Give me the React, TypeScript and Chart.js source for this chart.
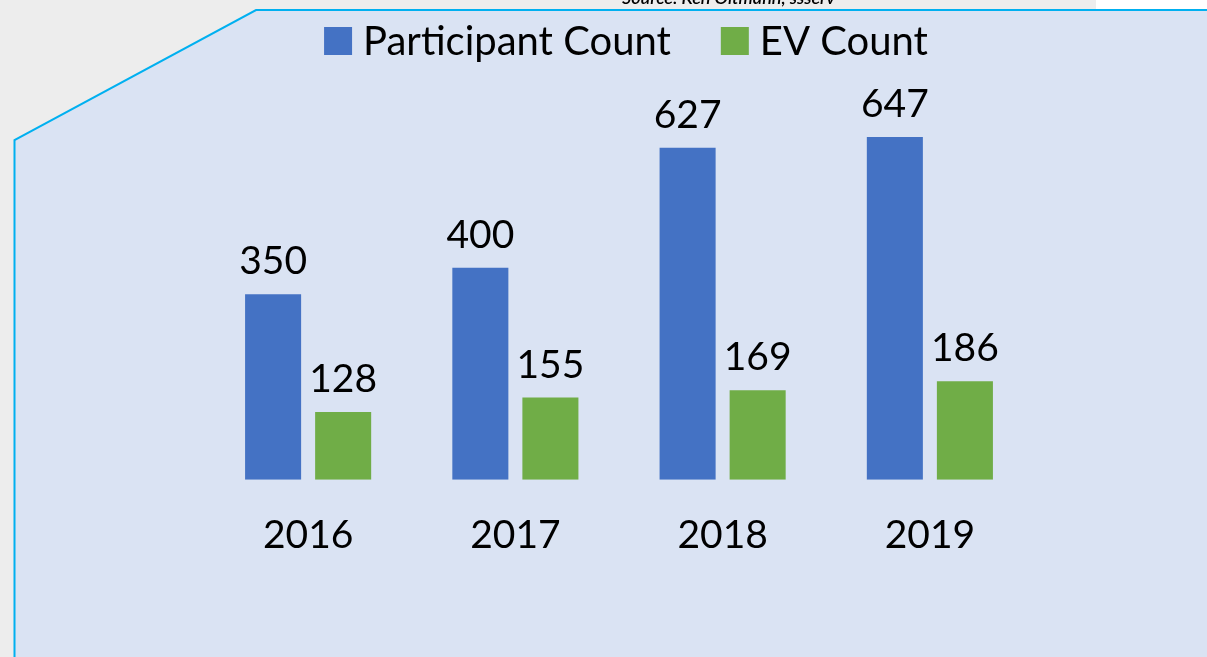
import React, { useEffect, useRef } from "react";
import { Chart, registerables } from "chart.js";

Chart.register(...registerables);

const categories = ["2016", "2017", "2018", "2019"];
const participantCounts = [350, 400, 627, 647];
const evCounts = [128, 155, 169, 186];
const seriesLabels = ["Participant Count", "EV Count"];
const seriesColors = ["#4472C4", "#70AD47"];
const sourceText = "Source: Ken Oltmann, ssserv";

const FONT = "Lato, 'Liberation Sans', sans-serif";

const backgroundPlugin = {
  id: "panelBackground",
  beforeDraw(chart: any) {
    const { ctx, width, height } = chart;
    ctx.save();
    ctx.fillStyle = "#EDEDED";
    ctx.fillRect(0, 0, width, height);
    ctx.fillStyle = "#FFFFFF";
    ctx.fillRect(1096, 0, width - 1096, 9);
    ctx.fillStyle = "#000000";
    ctx.font = `italic 600 18px ${FONT}`;
    ctx.textAlign = "left";
    ctx.textBaseline = "alphabetic";
    ctx.fillText(sourceText, 622, 4);
    ctx.beginPath();
    ctx.moveTo(14.5, height + 5);
    ctx.lineTo(14.5, 140);
    ctx.lineTo(256, 10);
    ctx.lineTo(width + 5, 10);
    ctx.lineTo(width + 5, height + 5);
    ctx.closePath();
    ctx.fillStyle = "#DAE3F3";
    ctx.fill();
    ctx.lineWidth = 2;
    ctx.strokeStyle = "#00B0F0";
    ctx.stroke();
    ctx.restore();
  },
};

const valueLabelPlugin = {
  id: "valueLabels",
  afterDatasetsDraw(chart: any) {
    const { ctx } = chart;
    ctx.save();
    ctx.fillStyle = "#000000";
    ctx.font = `39px ${FONT}`;
    ctx.textAlign = "center";
    ctx.textBaseline = "alphabetic";
    chart.data.datasets.forEach((ds: any, i: number) => {
      const meta = chart.getDatasetMeta(i);
      meta.data.forEach((el: any, j: number) => {
        ctx.fillText(String(ds.data[j]), el.x, el.y - 20);
      });
    });
    ctx.restore();
  },
};

const legendPlugin = {
  id: "customLegend",
  afterDraw(chart: any) {
    const { ctx } = chart;
    ctx.save();
    ctx.font = `40px ${FONT}`;
    ctx.textAlign = "left";
    ctx.textBaseline = "alphabetic";
    const box = 28;
    const textGap = 11;
    const itemGap = 50;
    const items = chart.data.datasets.map((ds: any) => ({
      label: ds.label,
      color: ds.backgroundColor,
      w: ctx.measureText(ds.label).width,
    }));
    const total =
      items.reduce((s: number, it: any) => s + box + textGap + it.w, 0) +
      itemGap * (items.length - 1);
    let x = 626 - total / 2;
    const top = 27;
    items.forEach((it: any) => {
      ctx.fillStyle = it.color;
      ctx.fillRect(x, top, box, box);
      ctx.fillStyle = "#000000";
      ctx.fillText(it.label, x + box + textGap, top + box);
      x += box + textGap + it.w + itemGap;
    });
    ctx.restore();
  },
};

export default function App() {
  const canvasRef = useRef<HTMLCanvasElement | null>(null);

  useEffect(() => {
    if (!canvasRef.current) return;
    const chart = new Chart(canvasRef.current, {
      type: "bar",
      data: {
        labels: categories,
        datasets: [
          {
            label: seriesLabels[0],
            data: participantCounts,
            backgroundColor: seriesColors[0],
            barPercentage: 0.8,
            categoryPercentage: 0.676,
          },
          {
            label: seriesLabels[1],
            data: evCounts,
            backgroundColor: seriesColors[1],
            barPercentage: 0.8,
            categoryPercentage: 0.676,
          },
        ],
      },
      options: {
        responsive: false,
        animation: false,
        devicePixelRatio: 1,
        layout: { padding: { left: 204.5, right: 173.5, top: 109, bottom: 74.5 } },
        plugins: {
          legend: { display: false },
          tooltip: { enabled: false },
        },
        scales: {
          x: {
            grid: { display: false },
            border: { display: false },
            ticks: {
              color: "#000000",
              padding: 24,
              font: { family: FONT, size: 39 },
            },
          },
          y: {
            display: false,
            min: 0,
            max: 700,
          },
        },
      },
      plugins: [backgroundPlugin, valueLabelPlugin, legendPlugin],
    });
    return () => chart.destroy();
  }, []);

  return (
    <div style={{ position: "fixed", left: 0, top: 0, width: 1207, height: 657 }}>
      <canvas ref={canvasRef} width={1207} height={657} style={{ display: "block" }} />
    </div>
  );
}
